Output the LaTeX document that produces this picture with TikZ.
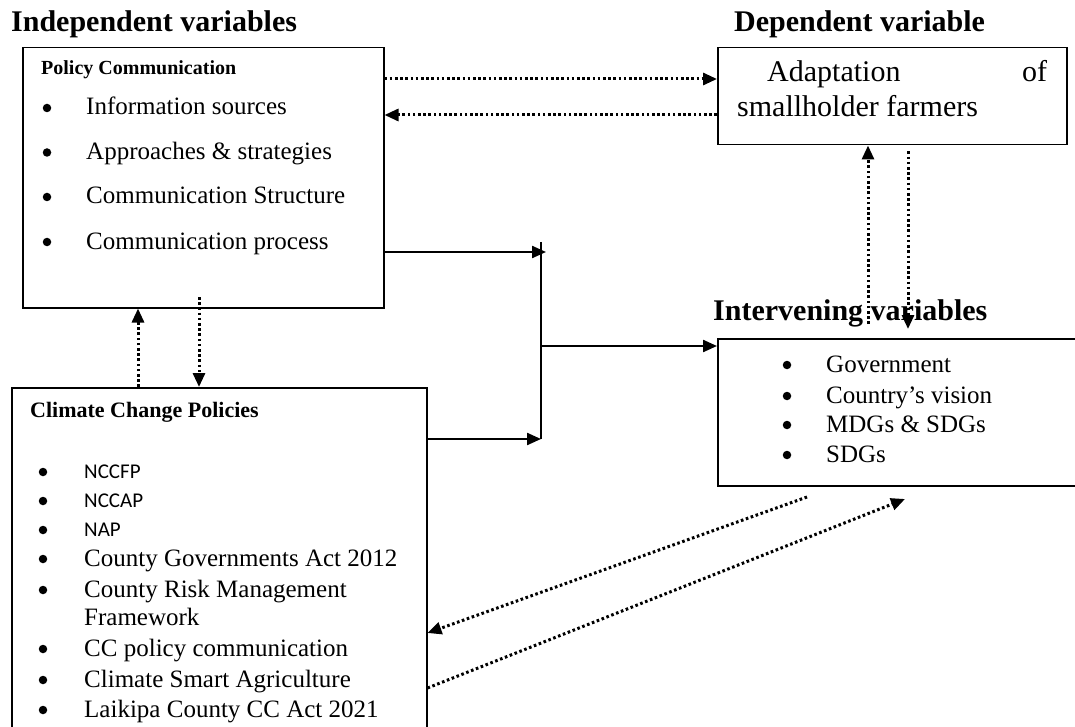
\documentclass[tikz,border=0pt]{standalone}
\usepackage{fontspec}
\setmainfont{Liberation Serif}
\newfontfamily\calib{Carlito}
\usetikzlibrary{arrows.meta}
\begin{document}
\begin{tikzpicture}[x=1pt,y=-1pt,
  box/.style={draw, line width=1.5pt, inner sep=0pt, anchor=north west},
  ttl/.style={anchor=base west, inner sep=0pt, font=\fontsize{30}{36}\selectfont\bfseries},
  item/.style={anchor=base west, inner sep=0pt, font=\fontsize{25}{30}\selectfont},
  bul/.style={circle, fill, inner sep=0pt, minimum size=8.5pt},
  sitem/.style={anchor=base west, inner sep=0pt, font=\fontsize{21}{25}\selectfont\calib},
  solarr/.style={line width=2.3pt, -{Triangle[length=14pt,width=12pt]}},
  solline/.style={line width=2.3pt},
  dotarr/.style={line width=3pt, dash pattern=on 2.6pt off 2.6pt, -{Triangle[length=14pt,width=12pt]}},
]
\useasboundingbox (0,0) rectangle (1075,727);
\clip (0,0) rectangle (1075,727);

% titles
\node[ttl] (tind) at (11,32) {Independent variables};
\node[ttl] (tdep) at (734,32) {Dependent variable};
\node[ttl] (tint) at (713,320) {Intervening variables};

% boxes
\node[box, minimum width=361pt, minimum height=260pt] (pc) at (22,47) {};
\node[box, minimum width=415pt, minimum height=360pt] (ccp) at (11,387) {};
\node[box, minimum width=349pt, minimum height=97pt] (dep) at (717,47) {};
\node[box, minimum width=380pt, minimum height=147pt] (iv) at (717,338) {};

% policy communication
\node[anchor=base west, inner sep=0pt, font=\fontsize{20}{24}\selectfont\bfseries] (pch) at (41,75) {Policy Communication};
\foreach \t/\y [count=\i] in {Information sources/115, Approaches \& strategies/159.5, Communication Structure/204, Communication process/249}{
  \node[bul] (pb\i) at (47,\y-7) {};
  \node[item] (pi\i) at (86,\y) {\t};
}

% climate change policies
\node[anchor=base west, inner sep=0pt, font=\fontsize{22}{26}\selectfont\bfseries] (cch) at (30,417) {Climate Change Policies};
\foreach \t/\y [count=\i] in {NCCFP/478, NCCAP/507, NAP/536}{
  \node[bul] (cb\i) at (43,\y-6) {};
  \node[sitem] (ci\i) at (84,\y) {\t};
}
\foreach \t/\y [count=\i from 4] in {County Governments Act 2012/566, County Risk Management/597, CC policy communication/656, Climate Smart Agriculture/687, Laikipa County CC Act 2021/717}{
  \node[bul] (cb\i) at (43,\y-7) {};
  \node[item] (ci\i) at (84,\y) {\t};
}
\node[item] (ci5b) at (84,625) {Framework};

% dependent
\node[anchor=base west, inner sep=0pt, font=\fontsize{30}{36}\selectfont] (d1) at (767,82) {\makebox[280pt][l]{Adaptation\hfill of}};
\node[anchor=base west, inner sep=0pt, font=\fontsize{30}{36}\selectfont] (d2) at (737,117) {smallholder farmers};

% intervening
\foreach \t/\y [count=\i] in {Government/372, Country’s vision/403, MDGs \& SDGs/432, SDGs/462}{
  \node[bul] (ib\i) at (787,\y-7) {};
  \node[item] (ii\i) at (826,\y) {\t};
}

% junction coordinates
\coordinate (jtop) at (541,242);
\coordinate (jbot) at (541,439);
\coordinate (jpc) at (546,252);
\coordinate (jmid) at (541,346);
\coordinate (pcd) at (199,297);
\coordinate (ivu) at (868,324);
\coordinate (ivd) at (908,329);
\coordinate (dgA) at (807,497);
\coordinate (dgB) at (905,499);

% solid connectors
\draw[solarr] (pc.east |- 0,252) -- (jpc);
\draw[solline] (jtop) -- (jbot);
\draw[solarr] (ccp.east |- 0,439) -- (jbot);
\draw[solarr] (jmid) -- (iv.west |- 0,346);

% dotted connectors
\draw[dotarr] (pc.east |- 0,79) -- (dep.west |- 0,79);
\draw[dotarr] (dep.west |- 0,115) -- (pc.east |- 0,115);
\draw[dotarr] (ccp.north -| 138,0) -- (pc.south -| 138,0);
\draw[dotarr] (pcd) -- (ccp.north -| 199,0);
\draw[dotarr] (ivu) -- (dep.south -| 868,0);
\draw[dotarr] ([yshift=-6pt]dep.south -| 908,0) -- (ivd);
\draw[dotarr] (dgA) -- (ccp.east |- 0,633);
\draw[dotarr] (ccp.east |- 0,688) -- (dgB);
\end{tikzpicture}
\end{document}
